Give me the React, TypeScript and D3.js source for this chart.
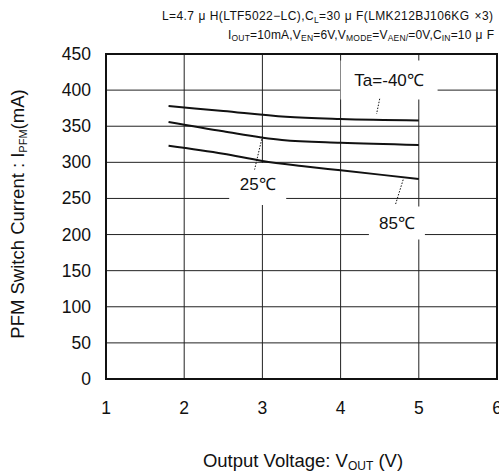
import * as d3 from "d3";
import React from "react";

// curves: [Vout (V), Ipfm (mA)]
const curveM40: [number, number][] = [
  [1.8, 378], [2.5, 371], [3.3, 363], [4, 360], [5, 358],
];
const curve25: [number, number][] = [
  [1.8, 356], [2.5, 343], [3.25, 331], [4, 327], [5, 324],
];
const curve85: [number, number][] = [
  [1.8, 323], [2.5, 312], [3, 302], [3.5, 295], [4, 289], [5, 277],
];
const xTicks = [1, 2, 3, 4, 5, 6];
const yTicks = [0, 50, 100, 150, 200, 250, 300, 350, 400, 450];

const font = "'Liberation Sans', Arial, sans-serif";

export default function App() {
  const W = 499,
    H = 472;
  const margin = { top: 54, right: 2, bottom: 93, left: 106 };
  const x = d3.scaleLinear().domain([1, 6]).range([margin.left, W - margin.right]);
  const y = d3.scaleLinear().domain([0, 450]).range([H - margin.bottom, margin.top]);

  const line = d3
    .line<[number, number]>()
    .x((d) => x(d[0]))
    .y((d) => y(d[1]))
    .curve(d3.curveMonotoneX);

  // label boxes (white background hides grid behind text)
  const labels = [
    { text: "Ta=-40℃", cx: x(4.62), cy: y(414), w: 97, h: 39, lead: [[4.5, 388], [4.46, 367]] },
    { text: "25℃", cx: x(2.94), cy: y(270), w: 57, h: 42, lead: [[3, 336], [2.9, 290]] },
    { text: "85℃", cx: x(4.72), cy: y(216), w: 56, h: 33, lead: [[4.8, 276], [4.7, 241]] },
  ];

  return (
    <div style={{ position: "fixed", left: 0, top: 0 }}>
      <svg width={W} height={H} style={{ display: "block", background: "#fff" }} fontFamily={font}>
        {/* conditions */}
        <text x={162} y={20} fontSize={12} textLength={331} lengthAdjust="spacing" fill="#111">
          L=4.7<tspan dx={4}>μ</tspan><tspan dx={4}>H(LTF5022−LC),C</tspan>
          <tspan fontSize={8.5} dy={3}>L</tspan>
          <tspan dy={-3}>=30</tspan><tspan dx={4}>μ</tspan><tspan dx={4}>F(LMK212BJ106KG</tspan>
          <tspan dx={5}>×3)</tspan>
        </text>
        <text x={228} y={39} fontSize={12} textLength={266} lengthAdjust="spacing" fill="#111">
          I<tspan fontSize={8.5} dy={2}>OUT</tspan>
          <tspan dy={-2}>=10mA,V</tspan>
          <tspan fontSize={8.5} dy={2}>EN</tspan>
          <tspan dy={-2}>=6V,V</tspan>
          <tspan fontSize={8.5} dy={2}>MODE</tspan>
          <tspan dy={-2}>=V</tspan>
          <tspan fontSize={8.5} dy={2}>AEN/</tspan>
          <tspan dy={-2}>=0V,C</tspan>
          <tspan fontSize={8.5} dy={2}>IN</tspan>
          <tspan dy={-2}>=10</tspan><tspan dx={4}>μ</tspan><tspan dx={4}>F</tspan>
        </text>

        {/* grid */}
        {yTicks.slice(1, -1).map((t) => (
          <line key={"gy" + t} x1={x(1)} x2={x(6)} y1={y(t)} y2={y(t)} stroke="#222" strokeWidth={1} />
        ))}
        {xTicks.slice(1, -1).map((t) => (
          <line key={"gx" + t} x1={x(t)} x2={x(t)} y1={y(0)} y2={y(450)} stroke="#222" strokeWidth={1} />
        ))}

        {/* label backgrounds */}
        {labels.map((l) => (
          <rect key={"bg" + l.text} x={l.cx - l.w / 2} y={l.cy - l.h / 2} width={l.w} height={l.h} fill="#fff" />
        ))}

        {/* frame */}
        <rect x={x(1)} y={y(450)} width={x(6) - x(1)} height={y(0) - y(450)} fill="none" stroke="#111" strokeWidth={2} />

        {/* curves */}
        {[curveM40, curve25, curve85].map((c, i) => (
          <path key={"c" + i} d={line(c) ?? ""} fill="none" stroke="#111" strokeWidth={2} />
        ))}

        {/* labels + leaders */}
        {labels.map((l) => (
          <g key={"lb" + l.text}>
            <text x={l.cx} y={l.cy + 6} fontSize={17} textAnchor="middle" fill="#111">
              {l.text}
            </text>
            <line
              x1={x(l.lead[0][0])}
              y1={y(l.lead[0][1])}
              x2={x(l.lead[1][0])}
              y2={y(l.lead[1][1])}
              stroke="#111"
              strokeWidth={1}
              strokeDasharray="1.5,1.5"
            />
          </g>
        ))}

        {/* tick labels */}
        {yTicks.map((t) => (
          <text key={"ty" + t} x={91} y={y(t) + 6} fontSize={17.5} textAnchor="end" fill="#111">
            {t}
          </text>
        ))}
        {xTicks.map((t) => (
          <text key={"tx" + t} x={x(t)} y={414} fontSize={17.5} textAnchor="middle" fill="#111">
            {t}
          </text>
        ))}

        {/* axis titles */}
        <text x={303} y={467} fontSize={18.5} textAnchor="middle" fill="#111">
          Output Voltage: V<tspan fontSize={12} dy={3}>OUT</tspan>
          <tspan dy={-3}> (V)</tspan>
        </text>
        <text transform="translate(24,214) rotate(-90)" fontSize={18.5} textAnchor="middle" fill="#111">
          PFM Switch Current : I<tspan fontSize={11} dy={3}>PFM</tspan>
          <tspan dy={-3}>(mA)</tspan>
        </text>
      </svg>
    </div>
  );
}
